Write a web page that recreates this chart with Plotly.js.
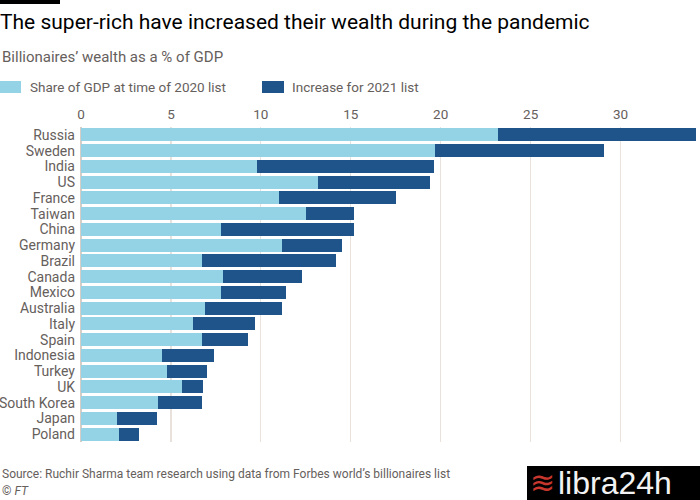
<!DOCTYPE html>
<html>
<head>
<meta charset="utf-8">
<script src="https://cdn.plot.ly/plotly-3.0.1.min.js"></script>
<style>html,body{margin:0;padding:0;background:#fff;}#chart{width:700px;height:500px;}</style>
</head>
<body>
<div id="chart"></div>
<script>
const countries = ["Russia","Sweden","India","US","France","Taiwan","China","Germany","Brazil","Canada","Mexico","Australia","Italy","Spain","Indonesia","Turkey","UK","South Korea","Japan","Poland"];
const share2020 = [23.2,19.7,9.8,13.2,11.0,12.5,7.8,11.2,6.7,7.9,7.8,6.9,6.2,6.7,4.5,4.8,5.6,4.3,2.0,2.1];
const increase2021 = [11.0,9.4,9.8,6.2,6.5,2.7,7.4,3.3,7.5,4.4,3.6,4.3,3.5,2.6,2.9,2.2,1.2,2.4,2.2,1.1];
const seriesNames = ["Share of GDP at time of 2020 list","Increase for 2021 list"];
const xTicks = [0,5,10,15,20,25,30];

const lightColor = "#94d3e6";
const darkColor = "#1f548b";
const grayText = "#66605c";
const W = 700, H = 500;
const M = {l:81, r:3, t:127, b:58};
const px = x => (x - M.l) / (W - M.l - M.r);
const py = y => (H - M.b - y) / (H - M.t - M.b);
const FONT = "Roboto, 'Open Sans', sans-serif";

const traces = [
  {type:"bar", orientation:"h", y:countries, x:share2020, name:seriesNames[0],
   marker:{color:lightColor}, hoverinfo:"x+y"},
  {type:"bar", orientation:"h", y:countries, x:increase2021, name:seriesNames[1],
   marker:{color:darkColor}, hoverinfo:"x+y"}
];

const layout = {
  width:W, height:H,
  margin:M,
  paper_bgcolor:"#fff", plot_bgcolor:"#fff",
  barmode:"stack", bargap:0.17,
  showlegend:false,
  font:{family:FONT, color:grayText, size:13},
  title:{text:"The super-rich have increased their wealth during the pandemic",
         x:0, xref:"container", xanchor:"left",
         y:1-22/H, yref:"container", yanchor:"middle",
         font:{family:FONT, size:21, color:"#000"}},
  xaxis:{side:"top", range:[0,34.25], tickvals:xTicks, ticktext:xTicks.map(String),
         showgrid:true, gridcolor:"#e9e2dc", gridwidth:1.2,
         zeroline:true, zerolinecolor:"#d6cdc6", zerolinewidth:1.2,
         ticks:"", tickfont:{size:13.5, color:grayText}, ticklabelstandoff:4, fixedrange:true},
  yaxis:{autorange:"reversed", type:"category", tickmode:"array", tickvals:countries, ticktext:countries,
         ticks:"", showgrid:false, zeroline:false,
         tickfont:{size:14, color:grayText}, ticklabelstandoff:5, fixedrange:true},
  shapes:[
    {type:"rect", xref:"paper", yref:"paper", x0:px(0), x1:px(60), y0:py(4), y1:py(0),
     fillcolor:"#000", line:{width:0}},
    {type:"rect", xref:"paper", yref:"paper", x0:px(0), x1:px(21), y0:py(93), y1:py(81),
     fillcolor:lightColor, line:{width:0}},
    {type:"rect", xref:"paper", yref:"paper", x0:px(262), x1:px(284), y0:py(93), y1:py(81),
     fillcolor:darkColor, line:{width:0}},
    {type:"rect", xref:"paper", yref:"paper", x0:px(527), x1:px(700), y0:py(500), y1:py(466),
     fillcolor:"#000", line:{width:0}}
  ],
  annotations:[
    {text:"Billionaires’ wealth as a % of GDP", xref:"paper", yref:"paper",
     x:px(0), y:py(57), xanchor:"left", yanchor:"middle", showarrow:false,
     font:{size:15, color:grayText}},
    {text:seriesNames[0], xref:"paper", yref:"paper", x:px(28), y:py(87),
     xanchor:"left", yanchor:"middle", showarrow:false, font:{size:13.5, color:grayText}},
    {text:seriesNames[1], xref:"paper", yref:"paper", x:px(290), y:py(87),
     xanchor:"left", yanchor:"middle", showarrow:false, font:{size:13.5, color:grayText}},
    {text:"Source: Ruchir Sharma team research using data from Forbes world’s billionaires list",
     xref:"paper", yref:"paper", x:px(0), y:py(474), xanchor:"left", yanchor:"middle",
     showarrow:false, font:{size:12, color:grayText}},
    {text:"© <i>FT</i>", xref:"paper", yref:"paper", x:px(0), y:py(491), xanchor:"left", yanchor:"middle",
     showarrow:false, font:{size:12, color:grayText}},
    {text:"≋", xref:"paper", yref:"paper", x:px(528), y:py(482), xanchor:"left", yanchor:"middle",
     showarrow:false, font:{size:30, color:"#c8372d", family:"DejaVu Sans"}},
    {text:"libra24h", xref:"paper", yref:"paper", x:px(556), y:py(483), xanchor:"left", yanchor:"middle",
     showarrow:false, font:{size:32, color:"#f2f2f2", family:"'Liberation Sans Narrow', 'Liberation Sans', sans-serif"}}
  ]
};

Plotly.newPlot("chart", traces, layout, {displayModeBar:false, staticPlot:true});
</script>
</body>
</html>
